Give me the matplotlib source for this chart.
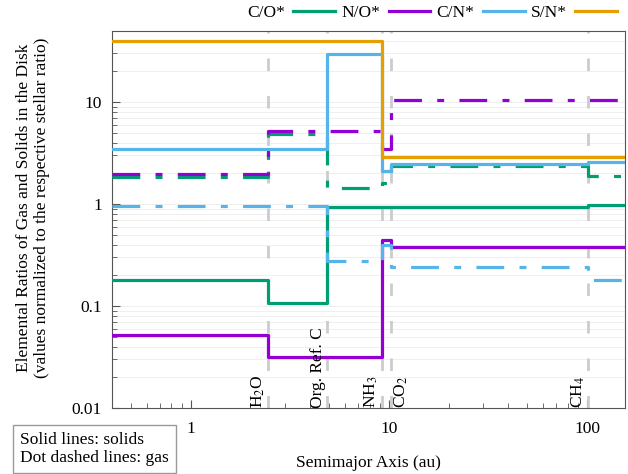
import matplotlib
matplotlib.use("Agg")
import matplotlib.pyplot as plt
from matplotlib.ticker import FuncFormatter, LogLocator, NullFormatter

plt.rcParams['font.family'] = ['Liberation Serif', 'DejaVu Serif']
plt.rcParams['mathtext.fontset'] = 'stix'
plt.rcParams['lines.scale_dashes'] = False

# segment edges (au): start, H2O, Org. Ref. C, NH3, CO2, CH4, end
edges = [0.4, 2.46, 4.9, 9.18, 10.27, 101.0, 155.0]
snow_pos = [2.46, 4.9, 9.18, 10.27, 101.0]
snow_lab = ['H$_2$O', 'Org. Ref. C', 'NH$_3$', 'CO$_2$', 'CH$_4$']
snow_side = ['left', 'left', 'left', 'right', 'left']

# values per segment
co_solid = [0.18, 0.107, 0.93, 0.93, 0.93, 0.97]
co_gas = [1.83, 4.9, 1.43, 1.6, 2.37, 1.87]
no_solid = [0.052, 0.032, 0.032, 0.44, 0.38, 0.38]
no_gas = [1.97, 5.2, 5.2, 3.5, 10.5, 10.5]
cn_solid = [3.45, 3.45, 29.5, 2.1, 2.5, 2.6]
cn_gas = [0.95, 0.95, 0.28, 0.40, 0.24, 0.18]
sn_solid = [40.0, 40.0, 40.0, 2.9, 2.9, 2.9]

names = ['C/O*', 'N/O*', 'C/N*', 'S/N*']
colors = ['#009E73', '#9400D3', '#56B4E9', '#E69F00']

fs = 12.5

fig = plt.figure(figsize=(6.28, 4.74), dpi=100)
ax = fig.add_axes([0.178, 0.139, 0.817, 0.796])

ax.set_xscale('log')
ax.set_yscale('log')
ax.set_xlim(0.4, 155)
ax.set_ylim(0.01, 50)

# faint horizontal grid
ax.yaxis.grid(True, which='both', color='#ececec', lw=0.6)
ax.set_axisbelow(True)

# snow lines
for x in snow_pos:
    ax.axvline(x, color='#cccccc', lw=2, ls=(0, (9, 18)), zorder=1)

dash = (0, (20, 11, 5, 11))
solids = [co_solid, no_solid, cn_solid, sn_solid]
gases = [co_gas, no_gas, cn_gas, None]
for i in range(4):
    ys = solids[i] + [solids[i][-1]]
    ax.step(edges, ys, where='post', color=colors[i], lw=2.3, label=names[i], zorder=3)
    if gases[i] is not None:
        yg = gases[i] + [gases[i][-1]]
        ax.step(edges, yg, where='post', color=colors[i], lw=2.3, ls=dash, zorder=3)

for x, lab, side in zip(snow_pos, snow_lab, snow_side):
    if side == 'left':
        ax.text(x * 0.985, 0.0101, lab, rotation=90, ha='right', va='bottom', fontsize=fs)
    else:
        ax.text(x * 1.015, 0.0101, lab, rotation=90, ha='left', va='bottom', fontsize=fs)

fmt = FuncFormatter(lambda v, p: '%g' % v)
ax.xaxis.set_major_formatter(fmt)
ax.yaxis.set_major_formatter(fmt)
ax.xaxis.set_minor_formatter(NullFormatter())
ax.yaxis.set_minor_formatter(NullFormatter())
ax.yaxis.set_major_locator(LogLocator(base=10, numticks=10))

ax.tick_params(which='both', direction='in', top=False, right=False, labelsize=fs, color='#555555')
ax.tick_params(which='major', length=6)
ax.tick_params(which='minor', length=3.5)
ax.tick_params(axis='x', which='both', pad=9)
ax.tick_params(axis='y', which='both', pad=7)
for s in ax.spines.values():
    s.set_color('#555555')

ax.set_xlabel('Semimajor Axis (au)', fontsize=fs)
ax.xaxis.set_label_coords(0.5, -0.125)
ax.set_ylabel('Elemental Ratios of Gas and Solids in the Disk\n(values normalized to the respective stellar ratio)',
              fontsize=fs)
ax.yaxis.set_label_coords(-0.12, 0.53)

handles, labels = ax.get_legend_handles_labels()
fig.legend(handles, labels, loc='center right', bbox_to_anchor=(617 / 628, 1 - 13 / 474), ncol=4,
           frameon=False, markerfirst=False, fontsize=fs, handlelength=2.4, columnspacing=0.35,
           handletextpad=0.5, borderpad=0, borderaxespad=0)

fig.text(20 / 628, 1 - 449 / 474, 'Solid lines: solids\nDot dashed lines: gas', fontsize=fs, ha='left',
         va='center', linespacing=1.25, bbox=dict(boxstyle='square,pad=0.4', fc='white', ec='#999999'))

fig.savefig('out.png', dpi=100)
